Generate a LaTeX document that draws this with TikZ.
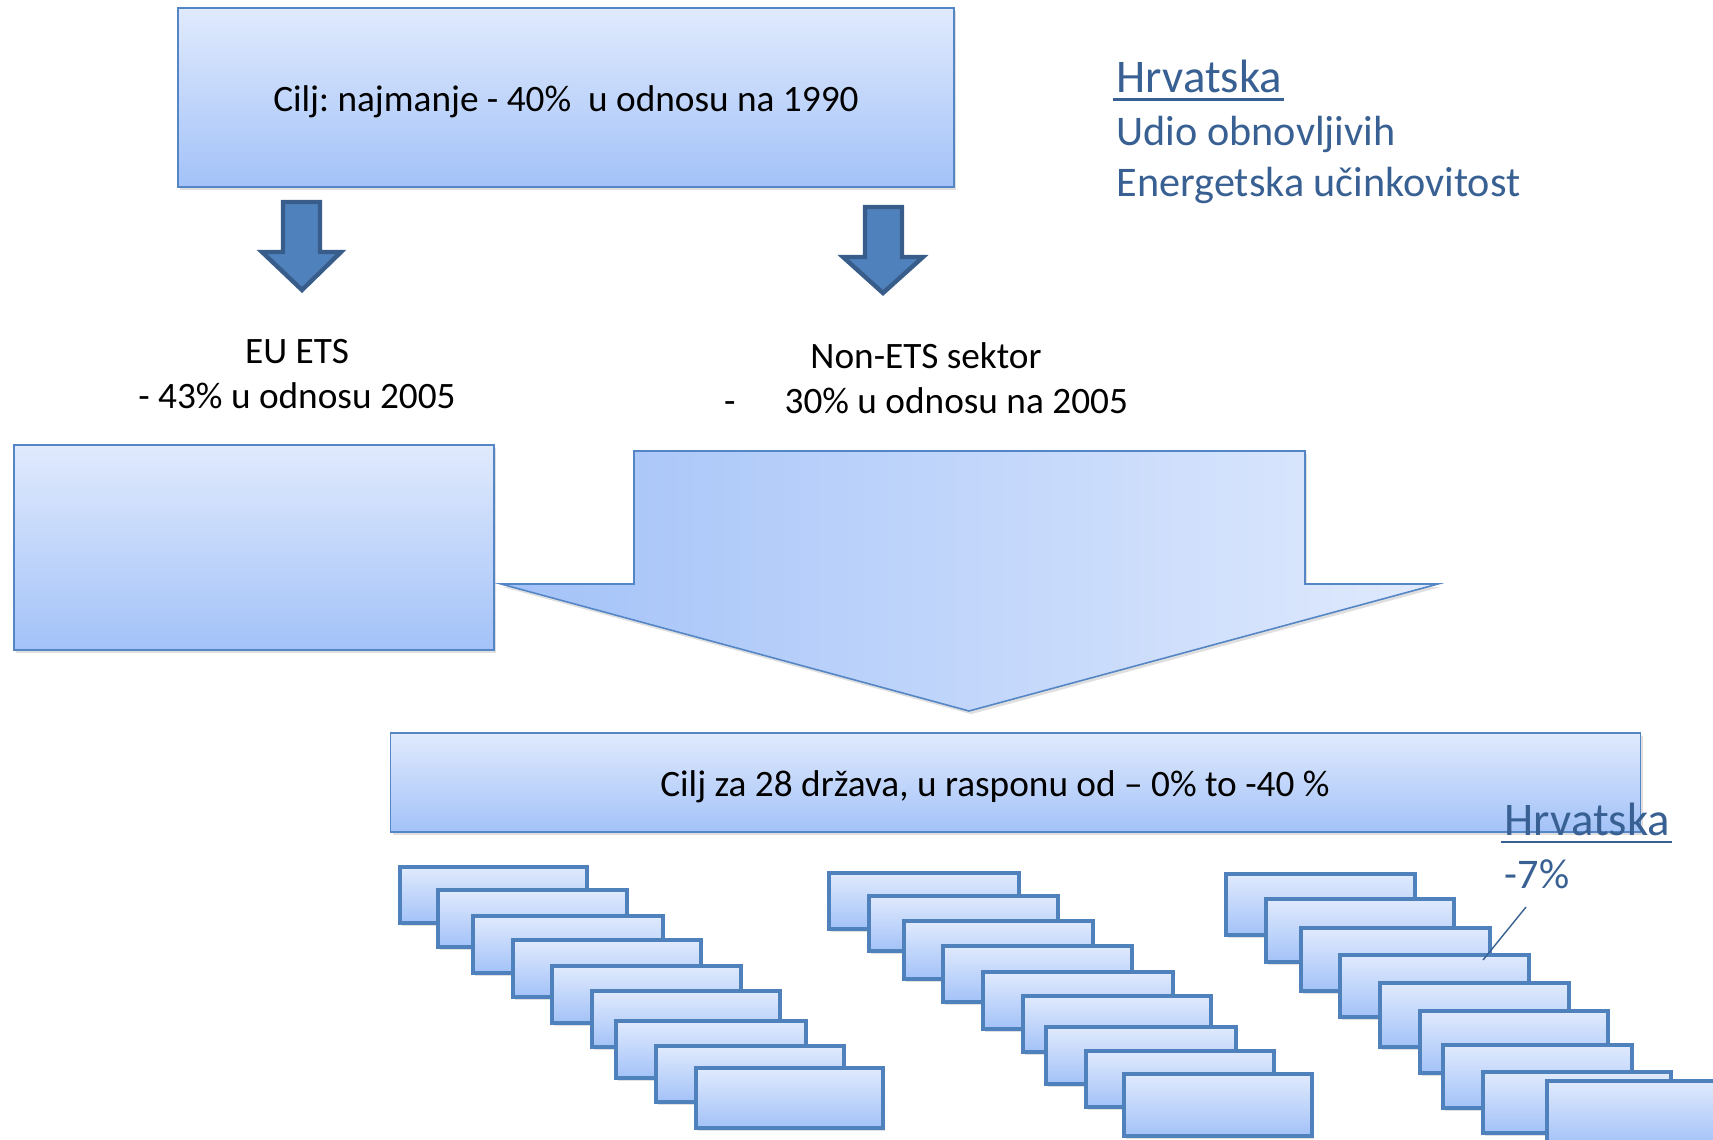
\documentclass[tikz,border=0pt]{standalone}
\usepackage{fontspec}
\setmainfont{Carlito}
\frenchspacing
\usetikzlibrary{shadows}
\definecolor{boxtop}{RGB}{224,234,253}
\definecolor{boxbottom}{RGB}{163,194,248}
\definecolor{boxline}{RGB}{84,134,198}
\definecolor{arrowfill}{RGB}{79,129,189}
\definecolor{arrowline}{RGB}{56,93,138}
\definecolor{hrblue}{RGB}{56,96,146}

\begin{document}
\begin{tikzpicture}[x=0.01cm,y=0.01cm,
  box/.style={draw=boxline,line width=0.45pt,top color=boxtop,bottom color=boxbottom,
    drop shadow={shadow xshift=0.6pt,shadow yshift=-0.9pt,opacity=0.25}},
  statebox/.style={box,draw=arrowfill,line width=0.95pt},
  downarrow/.style={fill=arrowfill,draw=arrowline,line width=1.25pt},
  maintext/.style={font=\fontsize{10.6}{12.8}\selectfont},
  hrtext/.style={text=hrblue,inner sep=0pt,anchor=base west,font=\fontsize{12}{14.4}\selectfont},
  hrtitle/.style={hrtext,font=\fontsize{13.3}{16}\selectfont},
  hrline/.style={draw=hrblue,line width=0.7pt}]

  \useasboundingbox (0,0) rectangle (1713,-1140);
  \clip (0,0) rectangle (1713,-1140);

  \node[box,minimum width=7.76cm,minimum height=1.79cm] (goal) at (566,-97.5) {};
  \node[maintext] (goaltext) at (566,-101.5) {Cilj: najmanje - 40\%\ \ u odnosu na 1990};

  \draw[downarrow] (283,-202) -- (320,-202) -- (320,-252) -- (341,-252) -- (302,-290) -- (262,-252) -- (283,-252) -- cycle;
  \draw[downarrow] (865,-207) -- (902,-207) -- (902,-257) -- (923,-257) -- (883,-293) -- (843,-257) -- (865,-257) -- cycle;

  \node[hrtitle] (hrvatska) at (1116,-93) {Hrvatska};
  \draw[hrline] ([shift={(-1pt,-1.9pt)}]hrvatska.base west) -- ([shift={(0.5pt,-1.9pt)}]hrvatska.base east);
  \node[hrtext] (udio) at (1116,-146) {Udio obnovljivih};
  \node[hrtext] (ucinak) at (1116,-197) {Energetska učinkovitost};

  \node[maintext,align=center] (etstext) at (297,-374) {EU ETS\\- 43\% u odnosu 2005};
  \node[maintext,align=center] (nonetstext) at (926,-378) {Non-ETS sektor\\-\hspace{14pt}30\% u odnosu na 2005};

  \node[box,minimum width=4.8cm,minimum height=2.05cm] (etsbox) at (254,-547.5) {};

  \draw[box,top color=boxtop,bottom color=boxtop,left color=boxbottom,right color=boxtop]
    (634,-451) -- (1305,-451) -- (1305,-584) -- (1438,-584) -- (969,-711) -- (501,-584) -- (634,-584) -- cycle;

  \node[box,minimum width=12.49cm,minimum height=0.99cm] (states) at (1015.5,-782.5) {};
  \node[maintext] (statestext) at (995,-787) {Cilj za 28 država, u rasponu od – 0\% to -40 \%};

  \draw[statebox] (400,-867) rectangle (587,-923);
  \draw[statebox] (438,-890) rectangle (627,-947);
  \draw[statebox] (473,-916) rectangle (663,-973);
  \draw[statebox] (513,-940) rectangle (701,-997);
  \draw[statebox] (552,-966) rectangle (741,-1023);
  \draw[statebox] (592,-991) rectangle (780,-1047);
  \draw[statebox] (616,-1021) rectangle (806,-1078);
  \draw[statebox] (656,-1046) rectangle (844,-1102);
  \draw[statebox] (696,-1068) rectangle (883,-1128);

  \draw[statebox] (829,-873) rectangle (1019,-929);
  \draw[statebox] (869,-896) rectangle (1058,-951);
  \draw[statebox] (904,-921) rectangle (1093,-979);
  \draw[statebox] (943,-946) rectangle (1132,-1002);
  \draw[statebox] (983,-972) rectangle (1173,-1029);
  \draw[statebox] (1023,-996) rectangle (1211,-1052);
  \draw[statebox] (1046,-1027) rectangle (1236,-1084);
  \draw[statebox] (1086,-1051) rectangle (1274,-1107);
  \draw[statebox] (1124,-1074) rectangle (1312,-1136);

  \draw[statebox] (1226,-874) rectangle (1415,-935);
  \draw[statebox] (1266,-899) rectangle (1454,-962);
  \draw[statebox] (1301,-928) rectangle (1490,-991);
  \draw[statebox] (1340,-955) rectangle (1529,-1017);
  \draw[statebox] (1380,-983) rectangle (1569,-1047);
  \draw[statebox] (1420,-1011) rectangle (1608,-1073);
  \draw[statebox] (1443,-1045) rectangle (1632,-1108);
  \draw[statebox] (1483,-1072) rectangle (1671,-1133);
  \draw[statebox] (1547,-1081) rectangle (1735,-1145);

  \node[hrtitle] (hrlow) at (1504,-835) {Hrvatska};
  \draw[hrline] ([shift={(-1pt,-2pt)}]hrlow.base west) -- ([shift={(0.5pt,-2pt)}]hrlow.base east);
  \node[hrtext] (minus7) at (1504,-888) {-7\%};
  \coordinate (leadtop) at (1526,-907);
  \coordinate (leadend) at (1483,-960);
  \draw[hrblue,line width=0.4pt] (leadtop) -- (leadend);
\end{tikzpicture}
\end{document}
